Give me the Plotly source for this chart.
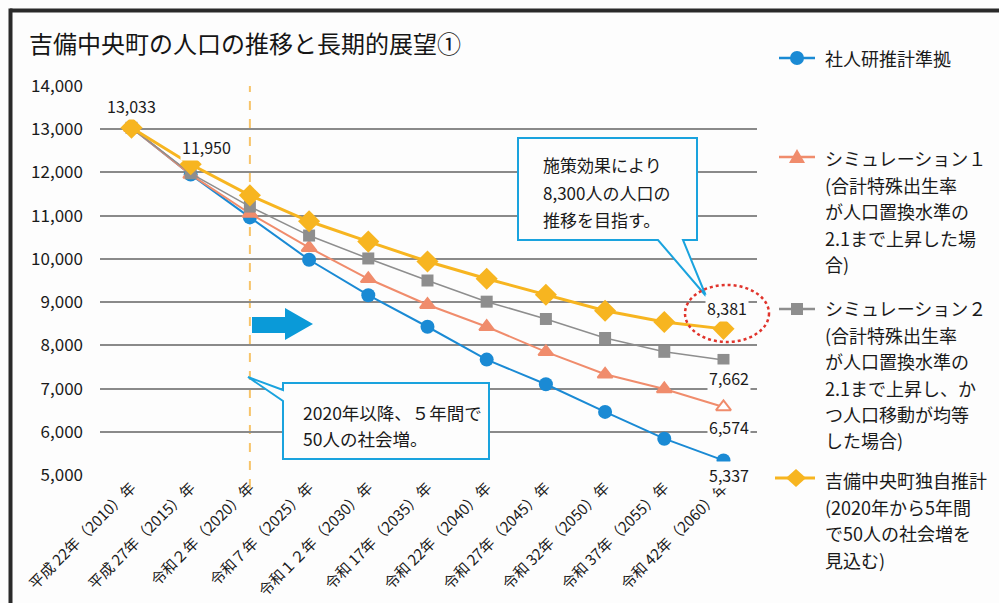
import plotly.graph_objects as go

# ---------------- data ----------------
years = ["平成 22年（2010）年", "平成 27年（2015）年", "令和２年（2020）年", "令和７年（2025）年",
         "令和１２年（2030）年", "令和 17年（2035）年", "令和 22年（2040）年", "令和 27年（2045）年",
         "令和 32年（2050）年", "令和 37年（2055）年", "令和 42年（2060）年"]
shajinken = [13033, 11950, 10960, 9980, 9160, 8430, 7670, 7100, 6460, 5840, 5337]
sim1 = [13033, 11950, 11050, 10260, 9540, 8940, 8430, 7850, 7330, 6990, 6574]
sim2 = [13033, 11980, 11210, 10540, 10010, 9500, 9010, 8610, 8170, 7850, 7662]
dokuji = [13033, 12190, 11470, 10870, 10400, 9940, 9540, 9170, 8800, 8540, 8381]
yticks = [5000, 6000, 7000, 8000, 9000, 10000, 11000, 12000, 13000, 14000]

series_names = ["社人研推計準拠", "シミュレーション１", "シミュレーション２", "吉備中央町独自推計"]

W, H = 999, 603
FONT = "Noto Sans CJK JP"
TXT = "#1a1a1a"
BLUE = "#1a8ad4"
ORANGE = "#f08c6c"
GRAY = "#8e8e8e"
YELLOW = "#f7b520"
CYAN = "#1aa3de"
BG = "#fdfdfd"


def px(x):
    return x / W


def py(y):
    return 1 - y / H


def path(points):
    s = "M " + " L ".join(f"{px(x):.5f},{py(y):.5f}" for x, y in points) + " Z"
    return s


fig = go.Figure()

fig.add_trace(go.Scatter(x=years, y=shajinken, mode="lines+markers", name=series_names[0],
                         line=dict(color=BLUE, width=2),
                         marker=dict(symbol="circle", size=14, color=BLUE)))
fig.add_trace(go.Scatter(x=years, y=sim1, mode="lines+markers", name=series_names[1],
                         line=dict(color=ORANGE, width=2),
                         marker=dict(symbol="triangle-up", size=13,
                                     color=[ORANGE] * (len(sim1) - 1) + ["white"],
                                     line=dict(color=ORANGE, width=2))))
fig.add_trace(go.Scatter(x=years, y=sim2, mode="lines+markers", name=series_names[2],
                         line=dict(color=GRAY, width=1.5),
                         marker=dict(symbol="square", size=12, color=GRAY)))
fig.add_trace(go.Scatter(x=years, y=dokuji, mode="lines+markers", name=series_names[3],
                         line=dict(color=YELLOW, width=3),
                         marker=dict(symbol="diamond", size=17, color=YELLOW)))

shapes = []
annotations = []

# frame
shapes.append(dict(type="line", xref="paper", yref="paper", x0=px(10), x1=1.0, y0=py(10.5), y1=py(10.5),
                   line=dict(color="#2a2a2a", width=4), layer="above"))
shapes.append(dict(type="line", xref="paper", yref="paper", x0=px(10.5), x1=px(10.5), y0=py(8.5), y1=0.0,
                   line=dict(color="#2a2a2a", width=4), layer="above"))

# dashed 2020 line
shapes.append(dict(type="line", xref="x", yref="paper", x0=years[2], x1=years[2], y0=py(488), y1=py(86),
                   line=dict(color="#f7c46a", width=2, dash="dash"), layer="between"))

# blue arrow
shapes.append(dict(type="path", xref="paper", yref="paper", layer="above",
                   path=path([(252, 317), (285, 317), (285, 308), (313, 324), (285, 340), (285, 333), (252, 333)]),
                   fillcolor="#0a9ad8", line=dict(width=0)))

# callout 1
shapes.append(dict(type="path", xref="paper", yref="paper", layer="above",
                   path=path([(518, 138), (697, 138), (697, 240), (683, 240), (706, 296), (658, 240), (518, 240)]),
                   fillcolor=BG, line=dict(color=CYAN, width=2)))
for i, t in enumerate(["施策効果により", "8,300人の人口の", "推移を目指す。"]):
    annotations.append(dict(xref="paper", yref="paper", x=px(541), y=py(165 + 27 * i), xanchor="left",
                            yanchor="middle", text=t, showarrow=False, font=dict(family=FONT, size=17, color=TXT)))

# callout 2
shapes.append(dict(type="path", xref="paper", yref="paper", layer="above",
                   path=path([(283, 383), (489, 383), (489, 459), (283, 459), (283, 401), (248, 377), (283, 390)]),
                   fillcolor=BG, line=dict(color=CYAN, width=2)))
for i, t in enumerate(["2020年以降、５年間で", "50人の社会増。"]):
    annotations.append(dict(xref="paper", yref="paper", x=px(301), y=py(412 + 26 * i), xanchor="left",
                            yanchor="middle", text=t, showarrow=False, font=dict(family=FONT, size=17.5, color=TXT)))

# red dotted ellipse
shapes.append(dict(type="circle", xref="paper", yref="paper", x0=px(685), x1=px(769), y0=py(342), y1=py(285),
                   line=dict(color="#e0342c", width=2.5, dash="dot"), layer="above"))

# data labels
def lab(xi, yv, text, xs, ys):
    annotations.append(dict(x=years[xi], y=yv, text=text, showarrow=False, xshift=xs, yshift=ys,
                            font=dict(family=FONT, size=16, color=TXT), bgcolor=BG, borderpad=1))

lab(0, dokuji[0], f"{dokuji[0]:,}", 0, 22)
lab(1, shajinken[1], f"{shajinken[1]:,}", 16, 28)
lab(10, dokuji[10], f"{dokuji[10]:,}", 4, 21)
lab(10, sim2[10], f"{sim2[10]:,}", 6, -18)
lab(10, sim1[10], f"{sim1[10]:,}", 6, -20)
lab(10, shajinken[10], f"{shajinken[10]:,}", 6, -15)

# title
annotations.append(dict(xref="paper", yref="paper", x=px(27), y=py(42), xanchor="left", yanchor="middle",
                        text="吉備中央町の人口の推移と長期的展望①", showarrow=False,
                        font=dict(family=FONT, size=24, color="#151515")))

# manual legend
legend_blocks = [
    (BLUE, "circle", 58, ["社人研推計準拠"], 58),
    (ORANGE, "triangle", 157, ["シミュレーション１", "(合計特殊出生率", "が人口置換水準の", "2.1まで上昇した場", "合)"], 158),
    (GRAY, "square", 309, ["シミュレーション２", "(合計特殊出生率", "が人口置換水準の", "2.1まで上昇し、か",
                           "つ人口移動が均等", "した場合)"], 308),
    (YELLOW, "diamond", 478, ["吉備中央町独自推計", "(2020年から5年間", "で50人の社会増を", "見込む)"], 480),
]
for color, sym, sy, lines, ty in legend_blocks:
    lw = 3 if sym == "diamond" else 2.5
    x0 = 775 if sym == "diamond" else 779
    shapes.append(dict(type="line", xref="paper", yref="paper", x0=px(x0), x1=px(815), y0=py(sy), y1=py(sy),
                       line=dict(color=color, width=lw), layer="above"))
    cx = 797
    if sym == "circle":
        shapes.append(dict(type="circle", xref="paper", yref="paper", x0=px(cx - 7), x1=px(cx + 7),
                           y0=py(sy + 7), y1=py(sy - 7), fillcolor=color, line=dict(width=0), layer="above"))
    elif sym == "triangle":
        shapes.append(dict(type="path", xref="paper", yref="paper", layer="above",
                           path=path([(cx, sy - 8), (cx + 8, sy + 6), (cx - 8, sy + 6)]),
                           fillcolor=color, line=dict(width=0)))
    elif sym == "square":
        shapes.append(dict(type="rect", xref="paper", yref="paper", x0=px(cx - 6), x1=px(cx + 6),
                           y0=py(sy + 6), y1=py(sy - 6), fillcolor=color, line=dict(width=0), layer="above"))
    else:
        shapes.append(dict(type="path", xref="paper", yref="paper", layer="above",
                           path=path([(cx - 1, sy - 9), (cx + 9, sy), (cx - 1, sy + 9), (cx - 11, sy)]),
                           fillcolor=color, line=dict(width=0)))
    for i, t in enumerate(lines):
        annotations.append(dict(xref="paper", yref="paper", x=px(823), y=py(ty + 26.5 * i), xanchor="left",
                                yanchor="middle", text=t, showarrow=False,
                                font=dict(family=FONT, size=18, color=TXT)))

fig.update_layout(
    width=W, height=H,
    margin=dict(l=0, r=0, t=0, b=0),
    paper_bgcolor=BG, plot_bgcolor=BG,
    showlegend=False,
    font=dict(family=FONT, color=TXT),
    xaxis=dict(domain=[px(100), px(757)], type="category", range=[-0.532, 10.566],
               tickangle=-45, tickfont=dict(family=FONT, size=15, color=TXT),
               showgrid=False, zeroline=False, showline=False, ticks="", automargin=False),
    yaxis=dict(domain=[py(475), py(86)], range=[5000, 14000], tickvals=yticks,
               tickformat=",d", tickfont=dict(family=FONT, size=17, color=TXT),
               showgrid=True, gridcolor="#8a8a8a", gridwidth=1.5, zeroline=False, showline=False,
               ticks="", ticklabelstandoff=16, automargin=False),
    shapes=shapes,
    annotations=annotations,
)

fig.write_html("out.html", config={"displayModeBar": False},
               post_script="document.body.style.margin='0px';document.body.style.padding='0px';"
                           "document.body.style.overflow='hidden';")
